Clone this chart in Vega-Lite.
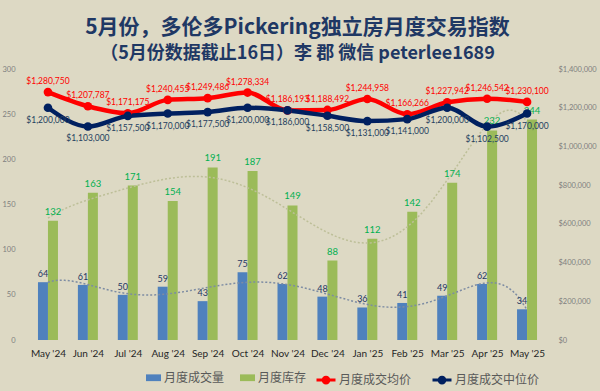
{
  "$schema": "https://vega.github.io/schema/vega-lite/v6.json",
  "width": 529,
  "height": 271,
  "autosize": {"type": "none"},
  "padding": {"left": 23, "top": 69, "right": 48, "bottom": 51},
  "background": "#DDD9C4",
  "title": {
    "text": "5月份，多伦多Pickering独立房月度交易指数",
    "subtitle": "（5月份数据截止16日）李 郡 微信 peterlee1689",
    "anchor": "middle",
    "frame": "group",
    "dx": 10,
    "font": "Noto Sans CJK SC",
    "fontSize": 21,
    "fontWeight": "bold",
    "color": "#1F3864",
    "subtitleFont": "Noto Sans CJK SC",
    "subtitleFontSize": 18,
    "subtitleFontWeight": "bold",
    "subtitleColor": "#1F3864",
    "subtitlePadding": 7,
    "offset": 2
  },
  "data": {
    "values": [
      {"i": 0, "月度成交量": 64, "月度库存": 132, "月度成交均价": 1280750, "月度成交中位价": 1200000},
      {"i": 1, "月度成交量": 61, "月度库存": 163, "月度成交均价": 1207787, "月度成交中位价": 1103000},
      {"i": 2, "月度成交量": 50, "月度库存": 171, "月度成交均价": 1171175, "月度成交中位价": 1157500},
      {"i": 3, "月度成交量": 59, "月度库存": 154, "月度成交均价": 1240455, "月度成交中位价": 1170000},
      {"i": 4, "月度成交量": 43, "月度库存": 191, "月度成交均价": 1249486, "月度成交中位价": 1177500},
      {"i": 5, "月度成交量": 75, "月度库存": 187, "月度成交均价": 1278334, "月度成交中位价": 1200000},
      {"i": 6, "月度成交量": 62, "月度库存": 149, "月度成交均价": 1186193, "月度成交中位价": 1186000},
      {"i": 7, "月度成交量": 48, "月度库存": 88, "月度成交均价": 1188492, "月度成交中位价": 1158500},
      {"i": 8, "月度成交量": 36, "月度库存": 112, "月度成交均价": 1244958, "月度成交中位价": 1131000},
      {"i": 9, "月度成交量": 41, "月度库存": 142, "月度成交均价": 1166266, "月度成交中位价": 1141000},
      {"i": 10, "月度成交量": 49, "月度库存": 174, "月度成交均价": 1227942, "月度成交中位价": 1200000},
      {"i": 11, "月度成交量": 62, "月度库存": 232, "月度成交均价": 1246542, "月度成交中位价": 1102500},
      {"i": 12, "月度成交量": 34, "月度库存": 244, "月度成交均价": 1230100, "月度成交中位价": 1170000}
    ]
  },
  "config": {
    "view": {"stroke": null},
    "axis": {
      "grid": false,
      "domain": false,
      "ticks": false,
      "title": null,
      "labelFont": "Lato",
      "labelColor": "#7F7F7F",
      "labelFontSize": 7.5,
      "labelOverlap": false
    },
    "legend": {
      "labelFont": "Noto Sans CJK SC",
      "labelFontSize": 12,
      "labelColor": "#595959",
      "title": null,
      "direction": "horizontal",
      "orient": "none",
      "columnPadding": 14,
      "labelOffset": 2
    }
  },
  "encoding": {
    "x": {
      "field": "i",
      "type": "quantitative",
      "scale": {"domain": [-0.5, 12.5], "nice": false, "zero": false},
      "axis": {
        "values": [0, 1, 2, 3, 4, 5, 6, 7, 8, 9, 10, 11, 12],
        "labelExpr": "[\"May '24\",\"Jun '24\",\"Jul '24\",\"Aug '24\",\"Sep '24\",\"Oct '24\",\"Nov '24\",\"Dec '24\",\"Jan '25\",\"Feb '25\",\"Mar '25\",\"Apr '25\",\"May '25\"][datum.value]",
        "labelFlush": false,
        "labelOverlap": false,
        "labelColor": "#262626",
        "labelFontSize": 10,
        "labelPadding": 8
      }
    }
  },
  "layer": [
    {
      "transform": [{"fold": ["月度成交量", "月度库存"], "as": ["series", "val"]}],
      "encoding": {
        "y": {
          "field": "val",
          "type": "quantitative",
          "scale": {"domain": [0, 300], "nice": false},
          "axis": {"orient": "left", "values": [0, 50, 100, 150, 200, 250, 300], "labelPadding": 8, "labelOverlap": false}
        }
      },
      "layer": [
        {
          "transform": [{"filter": "datum.series === '月度成交量'"}],
          "mark": {"type": "bar", "width": 10, "xOffset": -5},
          "encoding": {
            "color": {
              "field": "series",
              "type": "nominal",
              "scale": {"domain": ["月度成交量", "月度库存"], "range": ["#4F81BD", "#9BBB59"]},
              "legend": {
                "symbolType": "M-1,-0.45H1V0.45H-1Z",
                "symbolSize": 225,
                "legendX": 122,
                "legendY": 300
              }
            }
          }
        },
        {
          "transform": [{"filter": "datum.series === '月度库存'"}],
          "mark": {"type": "bar", "width": 10, "xOffset": 5},
          "encoding": {"color": {"field": "series", "type": "nominal"}}
        },
        {
          "transform": [
            {"filter": "datum.series === '月度库存'"},
            {"regression": "val", "on": "i", "method": "poly", "order": 6, "extent": [0, 12]}
          ],
          "mark": {"type": "line", "color": "#BDBF98", "strokeWidth": 1.5, "strokeDash": [2, 2]}
        },
        {
          "transform": [
            {"filter": "datum.series === '月度成交量'"},
            {"regression": "val", "on": "i", "method": "poly", "order": 6, "extent": [0, 12]}
          ],
          "mark": {"type": "line", "color": "#7D8CA3", "strokeWidth": 1.5, "strokeDash": [2, 2]}
        },
        {
          "transform": [{"filter": "datum.series === '月度成交量'"}],
          "mark": {"type": "text", "xOffset": -5, "baseline": "bottom", "dy": -3, "font": "Lato", "fontSize": 9, "color": "#1F3864"},
          "encoding": {"text": {"field": "val", "type": "quantitative"}}
        },
        {
          "transform": [{"filter": "datum.series === '月度库存'"}],
          "mark": {"type": "text", "xOffset": 5, "baseline": "bottom", "dy": -4, "font": "Lato", "fontSize": 9.5, "color": "#00B050"},
          "encoding": {"text": {"field": "val", "type": "quantitative"}}
        }
      ]
    },
    {
      "transform": [{"fold": ["月度成交均价", "月度成交中位价"], "as": ["series", "price"]}],
      "encoding": {
        "y": {
          "field": "price",
          "type": "quantitative",
          "scale": {"domain": [0, 1400000], "nice": false},
          "axis": {"orient": "right", "format": "$,.0f", "values": [0, 200000, 400000, 600000, 800000, 1000000, 1200000, 1400000], "labelPadding": 6, "labelOverlap": false}
        }
      },
      "layer": [
        {
          "mark": {"type": "line", "interpolate": "monotone", "strokeWidth": 4.5},
          "encoding": {
            "stroke": {
              "field": "series",
              "type": "nominal",
              "scale": {"domain": ["月度成交均价", "月度成交中位价"], "range": ["#FF0000", "#002060"]},
              "legend": {
                "symbolType": "M-1,0H1M0.3,0A0.3,0.3,0,1,1,-0.3,0A0.3,0.3,0,1,1,0.3,0",
                "symbolSize": 361,
                "symbolStrokeWidth": 3,
                "legendX": 292,
                "legendY": 300,
                "encode": {"symbols": {"update": {"fill": {"scale": "stroke", "field": "value"}}}}
              }
            }
          }
        },
        {
          "mark": {"type": "point", "filled": true, "size": 75, "opacity": 1},
          "encoding": {
            "fill": {
              "field": "series",
              "type": "nominal",
              "scale": {"domain": ["月度成交均价", "月度成交中位价"], "range": ["#FF0000", "#002060"]},
              "legend": null
            }
          }
        },
        {
          "transform": [{"filter": "datum.series === '月度成交均价'"}],
          "mark": {"type": "text", "baseline": "middle", "dy": -11, "font": "Lato", "fontSize": 8.5, "color": "#FF0000"},
          "encoding": {"text": {"field": "price", "type": "quantitative", "format": "$,.0f"}}
        },
        {
          "transform": [{"filter": "datum.series === '月度成交中位价'"}],
          "mark": {"type": "text", "baseline": "middle", "dy": 12, "font": "Lato", "fontSize": 8.5, "color": "#243F60"},
          "encoding": {"text": {"field": "price", "type": "quantitative", "format": "$,.0f"}}
        }
      ]
    }
  ],
  "resolve": {"scale": {"y": "independent"}}
}
